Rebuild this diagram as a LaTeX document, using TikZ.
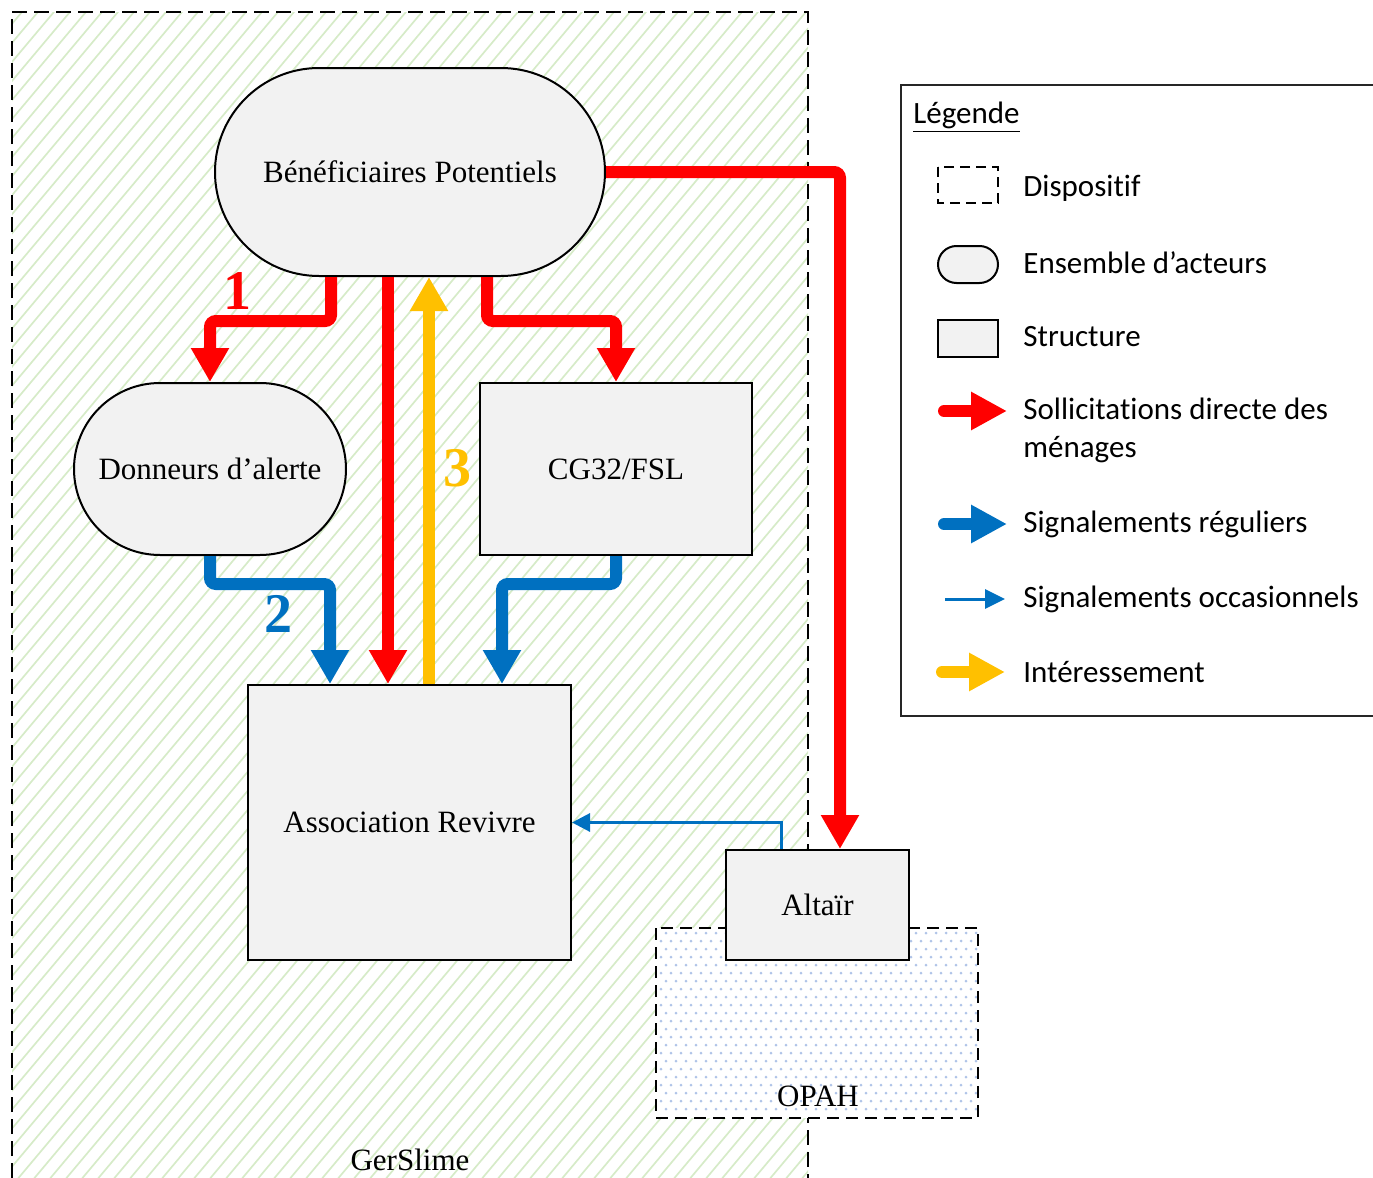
\documentclass[tikz,border=0pt]{standalone}
\usepackage{fontspec}
\setmainfont{Liberation Serif}
\newfontfamily\legfont[Ligatures={NoCommon,NoContextual}]{Carlito}
\usetikzlibrary{arrows.meta,shapes.misc,calc}
\definecolor{cred}{HTML}{FF0000}
\definecolor{cblue}{HTML}{0070C0}
\definecolor{cyel}{HTML}{FFC000}
\definecolor{cfill}{HTML}{F2F2F2}
\definecolor{chatch}{HTML}{D6EBC8}
\definecolor{cdot}{HTML}{B0C4E8}
\newcommand{\nfont}{\fontsize{15.5}{18}\selectfont}
\newcommand{\lfont}{\legfont\fontsize{15.5}{19}\selectfont}
\newcommand{\numfont}{\fontsize{28}{30}\selectfont\bfseries}
\begin{document}
\begin{tikzpicture}[x=0.5pt,y=-0.5pt,
  actor/.style={rounded rectangle, draw=black, line width=1pt, fill=cfill, inner sep=0pt, font=\nfont},
  struct/.style={rectangle, draw=black, line width=1pt, fill=cfill, inner sep=0pt, font=\nfont},
  dispo/.style={draw=black, line width=1pt, dash pattern=on 7.5pt off 3.5pt},
  bigarr/.style={line width=6pt, rounded corners=3pt, -{Triangle[width=18pt,length=17pt]}},
  thinarr/.style={line width=1.5pt, -{Triangle[width=9pt,length=9pt]}},
  legtxt/.style={anchor=west, font=\lfont, inner sep=0pt, align=left},
  numlab/.style={font=\numfont, inner sep=0pt}
]
\useasboundingbox (0,0) rectangle (1373,1178);
\clip (0,0) rectangle (1373,1178);

% GerSlime hatching
\begin{scope}
  \clip (12,12) rectangle (808,1200);
  \foreach \i in {-1008,-992,...,816}
    \draw[chatch, line width=0.85pt] (\i,1200) -- ++(1050,-1250);
\end{scope}
\draw[dispo] (12,1200) -- (12,12) -- (808,12) -- (808,1200);
\node[font=\nfont] (gerslime) at (410,1160) {GerSlime};

% OPAH
\fill[white] (656,928) rectangle (978,1118);
\foreach \y [count=\r] in {933,941,...,1115}
  \foreach \x in {661,671,...,975}
    \fill[cdot] ({\x+5*mod(\r,2)},\y) circle (0.75pt);
\draw[line width=1pt, dash pattern=on 6pt off 3.5pt] (656,928) rectangle (978,1118);
\node[font=\nfont] (opah) at (818,1096) {OPAH};

% nodes
\node[actor, minimum width=195pt, minimum height=104pt] (bp) at (410,172) {Bénéficiaires Potentiels};
\node[actor, minimum width=136pt, minimum height=86pt] (dn) at (210,469) {Donneurs d’alerte};
\node[struct, minimum width=136pt, minimum height=86pt] (cg) at (616,469) {CG32/FSL};
\node[struct, minimum width=161.5pt, minimum height=137.5pt] (ar) at (409.5,822.5) {Association Revivre};
\node[struct, minimum width=91.5pt, minimum height=55pt] (al) at (817.5,905) {Altaïr};

% arrows
\draw[bigarr, cred] ($(bp.south)+(-79,0)$) -- ++(0,44) -| (dn.north);
\draw[bigarr, cred] ($(bp.south)+(-22,0)$) -- ($(ar.north)+(-21.5,0)$);
\draw[bigarr, cyel] ($(ar.north)+(19.5,0)$) -- ($(bp.south)+(19,0)$);
\draw[bigarr, cred] ($(bp.south)+(77,0)$) -- ++(0,44) -| (cg.north);
\draw[bigarr, cblue] (dn.south) -- ++(0,28) -| ($(ar.north)+(-79.5,0)$);
\draw[bigarr, cblue] (cg.south) -- ++(0,28) -| ($(ar.north)+(92.5,0)$);
\draw[bigarr, cred] (bp.east) -| ($(al.north)+(22.5,0)$);
\draw[thinarr, cblue] ($(al.north)+(-36.5,0)$) |- (ar.east);

\node[numlab, text=cred] (n1) at (237,291) {1};
\node[numlab, text=cblue] (n2) at (278,614) {2};
\node[numlab, text=cyel] (n3) at (457,468) {3};

% legend
\draw[line width=1pt, black!85] (1390,85) -- (901,85) -- (901,716) -- (1390,716);
\node[anchor=base west, font=\lfont, inner sep=0pt] (legt) at (913,123) {\underline{Légende}};

\draw[line width=1pt, dash pattern=on 5pt off 3pt] (938,167) rectangle (998,203);
\node[legtxt] (l1) at (1023,188) {Dispositif};
\node[actor, minimum width=30pt, minimum height=18.5pt] (l2s) at (968,264.5) {};
\node[legtxt] (l2) at (1023,263) {Ensemble d’acteurs};
\node[struct, minimum width=30pt, minimum height=18.5pt] (l3s) at (968,338.5) {};
\node[legtxt] (l3) at (1023,337) {Structure};

\coordinate (a1s) at (944,411); \coordinate (a1e) at (1007,411);
\draw[line width=6pt, line cap=round, cred, -{Triangle[width=18pt,length=18pt]}] (a1s) -- (a1e);
\node[legtxt] (l4) at (1023,430) {Sollicitations directe des\\ménages};

\coordinate (a2s) at (944,524); \coordinate (a2e) at (1007,524);
\draw[line width=6pt, line cap=round, cblue, -{Triangle[width=18pt,length=18pt]}] (a2s) -- (a2e);
\node[legtxt] (l5) at (1023,524) {Signalements réguliers};

\coordinate (a3s) at (945,599); \coordinate (a3e) at (1005,599);
\draw[line width=1.5pt, cblue, -{Triangle[width=9.5pt,length=10pt]}] (a3s) -- (a3e);
\node[legtxt] (l6) at (1023,599) {Signalements occasionnels};

\coordinate (a4s) at (942,672); \coordinate (a4e) at (1005,672);
\draw[line width=6pt, line cap=round, cyel, -{Triangle[width=18pt,length=18pt]}] (a4s) -- (a4e);
\node[legtxt] (l7) at (1023,672) {Intéressement};
\end{tikzpicture}
\end{document}
